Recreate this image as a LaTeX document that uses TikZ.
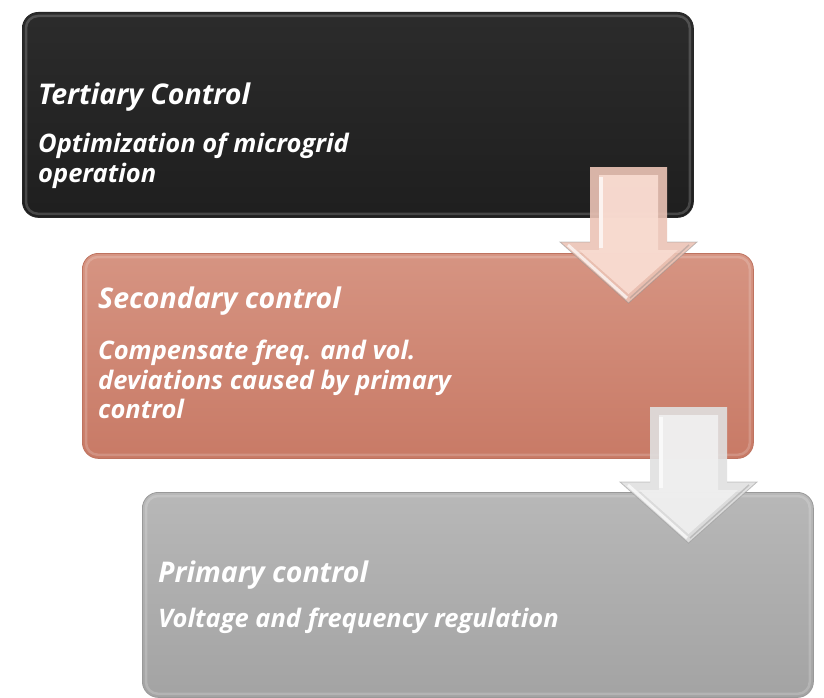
\documentclass[tikz,border=0pt]{standalone}
\usepackage{fontspec}
\setmainfont{Open Sans}
\definecolor{salmonTop}{RGB}{214,148,130}
\definecolor{salmonBottom}{RGB}{200,122,102}
\definecolor{salmonEdge}{RGB}{190,115,96}
\definecolor{pinkOuter}{RGB}{236,196,182}
\definecolor{pinkFace}{RGB}{249,220,210}
\begin{document}
\begin{tikzpicture}[x=1pt,y=-1pt,
  tier/.style={rounded corners=16pt, anchor=north west, inner sep=0pt,
    minimum width=671pt, minimum height=205pt, draw=#1, line width=0.8pt},
  rim/.style={rounded corners=12pt, draw=white, line width=2.5pt, opacity=0.18},
  head/.style={anchor=base west, inner sep=0pt, text=white,
    font=\fontsize{28.5}{32}\selectfont\bfseries\itshape},
  sub/.style={anchor=base west, inner sep=0pt, text=white,
    font=\fontsize{25.5}{30}\selectfont\bfseries\itshape}]
\useasboundingbox (0,0) rectangle (824,698);
\fill[white] (0,0) rectangle (824,698);

% three stacked control levels
\node[tier=black!85, top color=black!83, bottom color=black!88] (tertiary) at (22,12) {};
\node[tier=salmonEdge, top color=salmonTop, bottom color=salmonBottom] (secondary) at (82,253) {};
\node[tier=black!40, top color=black!28, bottom color=black!36] (primary) at (142,492) {};

\foreach \b in {tertiary,secondary,primary}
  \draw[rim] ([shift={(4,4)}]\b.north west) rectangle ([shift={(-4,-4)}]\b.south east);

% texts
\node[head] (tT) at ([shift={(16,93)}]tertiary.north west) {Tertiary Control};
\node[sub] (tA) at ([shift={(16,140)}]tertiary.north west) {Optimization of microgrid};
\node[sub] (tB) at ([shift={(16,170)}]tertiary.north west) {operation};

\node[head] (sT) at ([shift={(16,55)}]secondary.north west) {Secondary control};
\node[sub] (sA) at ([shift={(16,106)}]secondary.north west) {Compensate freq. and vol.};
\node[sub] (sB) at ([shift={(16,136)}]secondary.north west) {deviations caused by primary};
\node[sub] (sC) at ([shift={(16,165)}]secondary.north west) {control};

\node[head] (pT) at ([shift={(16,90)}]primary.north west) {Primary control};
\node[sub] (pA) at ([shift={(16,135)}]primary.north west) {Voltage and frequency regulation};

% bevelled block arrows between levels
\newcommand\drawblockarrow[4]{%
  \begin{scope}[shift={(#1,#2)}]
    \fill[#3, opacity=0.9] (0,0) -- (77,0) -- (77,75) -- (107,75) -- (38.5,136)
      -- (-30,75) -- (0,75) -- cycle;
    \draw[black!45, opacity=0.5, line width=0.8pt] (0,75) -- (-30,75) -- (38.5,136) -- (107,75) -- (77,75);
    \fill[#4, opacity=0.9] (9,8) -- (68,8) -- (68,83) -- (88,83) -- (38.5,127)
      -- (-11,83) -- (9,83) -- cycle;
    \draw[white, line width=4pt, opacity=0.7] (11,10) -- (11,81);
    \draw[white, line width=3pt, opacity=0.7] (-22,78) -- (37,131);
    \draw[black!50, line width=1.5pt, opacity=0.35] (40,131) -- (99,78);
  \end{scope}}
\drawblockarrow{590}{167}{pinkOuter}{pinkFace}
\drawblockarrow{650}{407}{black!12}{black!6}
\end{tikzpicture}
\end{document}
